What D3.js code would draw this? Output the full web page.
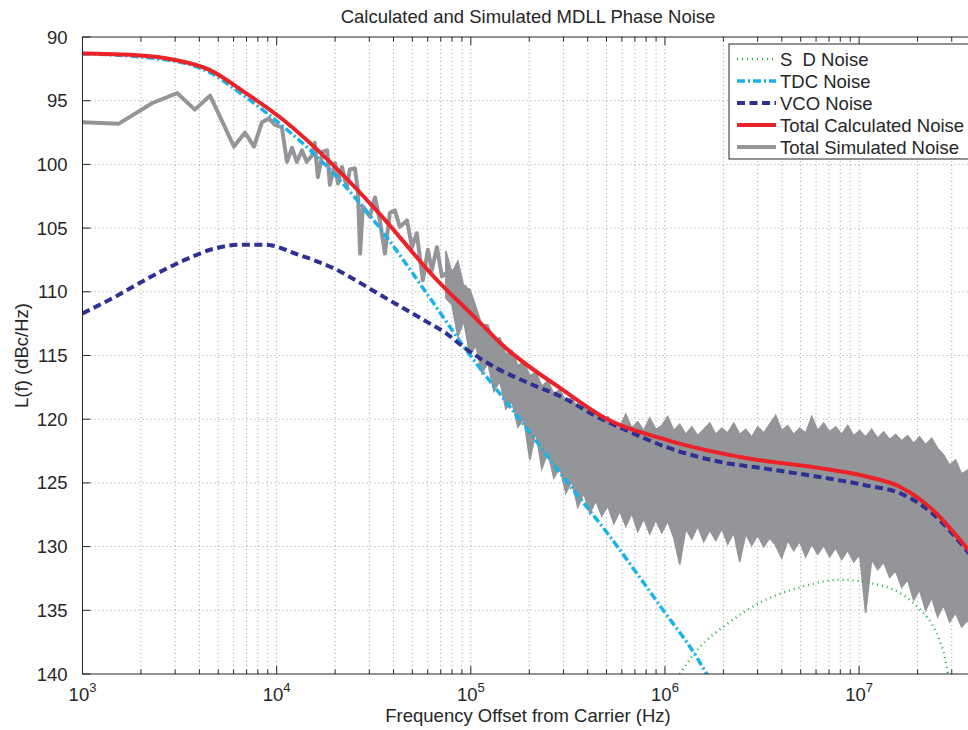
<!DOCTYPE html>
<html>
<head>
<meta charset="utf-8">
<script src="https://cdn.jsdelivr.net/npm/d3@7"></script>
<style>
  html,body{margin:0;padding:0;background:#fff;overflow:hidden;}
  svg{display:block;font-family:'Liberation Sans',Arial,Helvetica,sans-serif;}
  .grid line{stroke:#8a8a8a;stroke-width:0.8;stroke-dasharray:1 3;}
  .lbl{fill:#262626;font-size:18.5px;}
</style>
</head>
<body>
<div id="chart"></div>
<script>
// ---- data (freq in Hz, noise in -dBc/Hz) ----
const yTicks = [90,95,100,105,110,115,120,125,130,135,140];
const xMajor = [1e3,1e4,1e5,1e6,1e7];
const xMinorMult = [2,3,4,5,6,7,8,9];

const sdNoise = [[1.19e6,140],[1.51e6,137.9],[2.08e6,136.1],[3.08e6,134.4],[4.96e6,133.2],[7.96e6,132.6],
  [1.18e7,132.9],[1.89e7,134.4],[2.70e7,138.1],[2.87e7,140]];

const tdcNoise = [[1e3,91.3],[3.0e3,91.9],[4.54e3,92.8],[6.63e3,94.5],[1.0e4,96.6],[1.88e4,100.4],[3.4e4,105.0],
  [6.3e4,110.7],[9.1e4,114.2],[1.85e5,120.3],[2.98e5,124.5],[5.2e5,129.2],[9.8e5,135.0],[1.46e6,138.7],[1.64e6,140],[1.9e6,141.3]];

const vcoNoise = [[1e3,111.7],[1.47e3,110.4],[2.2e3,108.9],[3.25e3,107.6],[4.81e3,106.6],[6.63e3,106.3],[8.7e3,106.3],
  [1.30e4,107.1],[1.93e4,108.1],[2.69e4,109.3],[3.21e4,110.0],[6.0e4,112.4],[7.53e4,113.3],[9.1e4,114.3],[1.36e5,116.0],
  [2.01e5,117.2],[2.98e5,118.3],[4.46e5,119.8],[6.6e5,121.0],[1.02e6,122.2],[1.85e6,123.3],[3.35e6,123.9],[6.05e6,124.5],
  [1.09e7,125.2],[1.62e7,125.8],[2.39e7,127.4],[3.58e7,130.3],[4e7,131.2]];

const totalCalc = [[1e3,91.3],[1.76e3,91.4],[3.0e3,91.8],[4.54e3,92.6],[6.63e3,94.2],[1.08e4,96.5],[1.88e4,99.8],
  [3.4e4,103.9],[6.53e4,108.9],[1.08e5,112.2],[1.46e5,114.2],[2.98e5,117.7],[4.78e5,119.8],[1.06e6,121.7],[2.74e6,123.1],
  [6.05e6,123.8],[1.09e7,124.5],[1.62e7,125.3],[2.39e7,127.1],[3.58e7,130.1],[4e7,131.0]];

// simulated: sparse low-offset part as a trace
const simLine = [[1e3,96.7],[1.54e3,96.8],[2.28e3,95.2],[3.07e3,94.4],[3.79e3,95.7],[4.54e3,94.6],[6.03e3,98.6],[6.87e3,97.5],
  [7.64e3,98.6],[8.40e3,96.7],[9.12e3,96.4],[9.80e3,96.9],[1.064e4,97.1],[1.13e4,99.8],[1.20e4,98.7],[1.27e4,99.8],
  [1.35e4,98.9],[1.43e4,99.8],[1.52e4,99.3],[1.57e4,98.3],[1.63e4,101.0],[1.73e4,99.0],[1.82e4,98.9],[1.88e4,101.6],
  [2.00e4,99.9],[2.07e4,101.5],[2.17e4,100.2],[2.30e4,101.8],[2.38e4,100.4],[2.53e4,100.3],[2.62e4,102.0],[2.69e4,107.0],
  [2.78e4,103.3],[3.02e4,104.1],[3.21e4,102.6],[3.40e4,104.4],[3.61e4,107.0],[3.83e4,103.8],[4.06e4,103.6],[4.31e4,104.9],
  [4.69e4,104.4],[4.98e4,106.5],[5.27e4,105.4],[5.66e4,109.1],[6.01e4,106.7],[6.30e4,108.3],[6.69e4,106.5],[7.10e4,108.8],
  [7.53e4,108.5],[8.00e4,110.1],[8.48e4,109.1],[8.79e4,112.2],[9.33e4,109.6],[9.89e4,111.4]];

// simulated: dense part, [freq, upper edge, lower edge]
const simBand = [
  [7.44e4,106.8,110.5],[7.99e4,108.5,111.0],[8.58e4,107.6,113.5],[9.21e4,109.6,112.3],[9.89e4,109.8,115.0],
  [1.062e5,111.2,114.2],[1.140e5,112.6,116.4],[1.224e5,112.6,115.6],[1.314e5,113.9,117.8],[1.411e5,113.6,117.0],
  [1.515e5,114.9,119.2],[1.627e5,114.6,118.6],[1.747e5,115.8,120.6],[1.876e5,115.5,120.0],[2.014e5,116.6,123.2],
  [2.162e5,116.3,121.0],[2.322e5,117.4,123.9],[2.493e5,117.0,122.6],[2.677e5,118.0,124.6],[2.874e5,117.7,123.8],
  [3.086e5,118.6,125.8],[3.313e5,118.3,124.9],[3.557e5,119.2,126.9],[3.820e5,118.9,125.8],[4.101e5,119.7,127.4],
  [4.404e5,119.4,126.4],[4.728e5,120.2,127.6],[5.077e5,119.8,126.8],[5.451e5,120.4,128.2],[5.853e5,120.6,127.2],
  [6.284e5,119.6,128.4],[6.748e5,120.7,127.4],[7.245e5,120.2,128.8],[7.779e5,120.9,127.8],[8.353e5,119.9,129.0],
  [8.968e5,120.8,127.9],[9.629e5,120.5,128.9],[1.034e6,119.8,128.0],[1.110e6,120.9,129.3],[1.192e6,120.4,131.4],
  [1.280e6,121.2,128.6],[1.374e6,120.6,129.4],[1.475e6,121.3,128.4],[1.584e6,120.8,129.6],[1.701e6,120.3,128.7],
  [1.826e6,121.2,129.5],[1.961e6,120.7,128.6],[2.105e6,121.1,129.8],[2.260e6,120.3,128.9],[2.427e6,121.2,131.2],
  [2.606e6,120.8,129.0],[2.798e6,121.4,129.9],[3.004e6,120.6,129.1],[3.226e6,121.1,130.0],[3.463e6,120.4,129.3],
  [3.719e6,119.7,129.9],[3.993e6,120.9,130.9],[4.287e6,120.5,129.5],[4.603e6,121.2,130.3],[4.942e6,120.7,129.6],
  [5.307e6,121.1,130.8],[5.698e6,119.8,129.8],[6.118e6,120.9,130.6],[6.569e6,120.3,129.9],[7.053e6,121.0,130.8],
  [7.573e6,120.6,130.1],[8.131e6,121.2,131.0],[8.731e6,120.5,130.3],[9.374e6,121.3,131.2],[1.0065e7,120.9,130.6],
  [1.0807e7,121.4,135.2],[1.160e7,120.8,131.0],[1.246e7,121.5,131.8],[1.338e7,121.0,131.2],[1.436e7,121.6,132.4],
  [1.542e7,121.2,131.9],[1.656e7,121.7,133.2],[1.778e7,121.3,132.6],[1.909e7,121.9,134.2],[2.050e7,121.4,133.4],
  [2.201e7,122.0,135.0],[2.363e7,121.5,134.0],[2.537e7,122.3,135.5],[2.724e7,122.8,134.6],[2.925e7,123.6,135.9],
  [3.141e7,123.2,135.2],[3.372e7,124.3,136.3],[3.621e7,124.0,135.8],[3.888e7,124.8,136.6]];

const legendItems = [
  {name:'S\u00a0\u00a0D Noise', color:'#22b04b', width:2.4, dash:'1 4'},
  {name:'TDC Noise', color:'#1ab2e8', width:3.5, dash:'8 3 2 3'},
  {name:'VCO Noise', color:'#2e3192', width:4, dash:'8 4.5'},
  {name:'Total Calculated Noise', color:'#ec2229', width:4, dash:null},
  {name:'Total Simulated Noise', color:'#939598', width:4, dash:null}
];

// ---- layout ----
const W=968, H=730;
const P={l:82.5, t:37, r:976, b:674};
const x=d3.scaleLog().domain([1e3,4e7]).range([P.l,P.r]);
const y=d3.scaleLinear().domain([90,140]).range([P.t,P.b]);

const svg=d3.select('#chart').append('svg').attr('width',W).attr('height',H);
svg.append('defs').append('clipPath').attr('id','plotclip')
  .append('rect').attr('x',P.l).attr('y',P.t).attr('width',P.r-P.l).attr('height',P.b-P.t);

// grid
const xMinor=[];
xMajor.forEach(d=>xMinorMult.forEach(m=>{ const v=d*m; if(v<4e7) xMinor.push(v); }));
const grid=svg.append('g').attr('class','grid');
grid.selectAll('line.v').data(xMajor.concat(xMinor).filter(v=>v>1e3)).join('line')
  .attr('x1',d=>x(d)).attr('x2',d=>x(d)).attr('y1',P.t).attr('y2',P.b);
grid.selectAll('line.h').data(yTicks.filter(v=>v>90&&v<140)).join('line')
  .attr('x1',P.l).attr('x2',P.r).attr('y1',d=>y(d)).attr('y2',d=>y(d));

// series
const plot=svg.append('g').attr('clip-path','url(#plotclip)');
const line=d3.line().x(d=>x(d[0])).y(d=>y(d[1])).curve(d3.curveMonotoneX);
const rough=d3.line().x(d=>x(d[0])).y(d=>y(d[1]));
const band=d3.area().x(d=>x(d[0])).y0(d=>y(d[2])).y1(d=>y(d[1]));

const gray='#939598';
plot.append('path').datum(simBand).attr('d',band).attr('fill',gray)
  .attr('stroke',gray).attr('stroke-width',1.6).attr('stroke-linejoin','miter');
plot.append('path').datum(simLine).attr('d',rough).attr('fill','none')
  .attr('stroke',gray).attr('stroke-width',4).attr('stroke-linejoin','round');

function drawSeries(data,it){
  plot.append('path').datum(data).attr('d',line).attr('fill','none')
    .attr('stroke',it.color).attr('stroke-width',it.width)
    .attr('stroke-dasharray',it.dash);
}
drawSeries(sdNoise,legendItems[0]);
drawSeries(tdcNoise,legendItems[1]);
drawSeries(vcoNoise,legendItems[2]);
drawSeries(totalCalc,legendItems[3]);

// axes box + ticks (inward)
const ax=svg.append('g').attr('stroke','#262626').attr('stroke-width',1);
ax.append('rect').attr('x',P.l).attr('y',P.t).attr('width',P.r-P.l).attr('height',P.b-P.t).attr('fill','none');
ax.selectAll('line.xM').data(xMajor).join('line')
  .attr('x1',d=>x(d)).attr('x2',d=>x(d)).attr('y1',P.b).attr('y2',P.b-8);
ax.selectAll('line.xm').data(xMinor).join('line')
  .attr('x1',d=>x(d)).attr('x2',d=>x(d)).attr('y1',P.b).attr('y2',P.b-4.5);
ax.selectAll('line.xMt').data(xMajor).join('line')
  .attr('x1',d=>x(d)).attr('x2',d=>x(d)).attr('y1',P.t).attr('y2',P.t+8);
ax.selectAll('line.xmt').data(xMinor).join('line')
  .attr('x1',d=>x(d)).attr('x2',d=>x(d)).attr('y1',P.t).attr('y2',P.t+4.5);
ax.selectAll('line.y').data(yTicks).join('line')
  .attr('x1',P.l).attr('x2',P.l+8).attr('y1',d=>y(d)).attr('y2',d=>y(d));

// tick labels
svg.append('g').selectAll('text').data(yTicks).join('text').attr('class','lbl')
  .attr('x',P.l-15).attr('y',d=>y(d)+6.5).attr('text-anchor','end').text(d=>d);
const xl=svg.append('g').selectAll('text').data(xMajor).join('text').attr('class','lbl')
  .attr('x',d=>x(d)).attr('y',701).attr('text-anchor','middle');
xl.append('tspan').text('10');
xl.append('tspan').attr('dy',-9).attr('font-size',13).text(d=>Math.round(Math.log10(d)));

// titles
svg.append('text').attr('class','lbl').attr('x',528).attr('y',23).attr('text-anchor','middle')
  .text('Calculated and Simulated MDLL Phase Noise');
svg.append('text').attr('class','lbl').attr('x',528).attr('y',722).attr('text-anchor','middle')
  .text('Frequency Offset from Carrier (Hz)');
svg.append('text').attr('class','lbl').attr('transform',`translate(28,${(P.t+P.b)/2}) rotate(-90)`)
  .attr('text-anchor','middle').text('L(f) (dBc/Hz)');

// legend
const lg=svg.append('g').attr('transform','translate(729,44)');
lg.append('rect').attr('width',260).attr('height',115).attr('fill','#fff').attr('stroke','#262626').attr('stroke-width',1);
const row=lg.selectAll('g').data(legendItems).join('g').attr('transform',(d,i)=>`translate(0,${15+i*22})`);
row.append('line').attr('x1',8).attr('x2',47).attr('y1',0).attr('y2',0)
  .attr('stroke',d=>d.color).attr('stroke-width',d=>d.width).attr('stroke-dasharray',d=>d.dash);
row.append('text').attr('class','lbl').attr('x',51).attr('y',6.5).style('white-space','pre').text(d=>d.name);
</script>
</body>
</html>
